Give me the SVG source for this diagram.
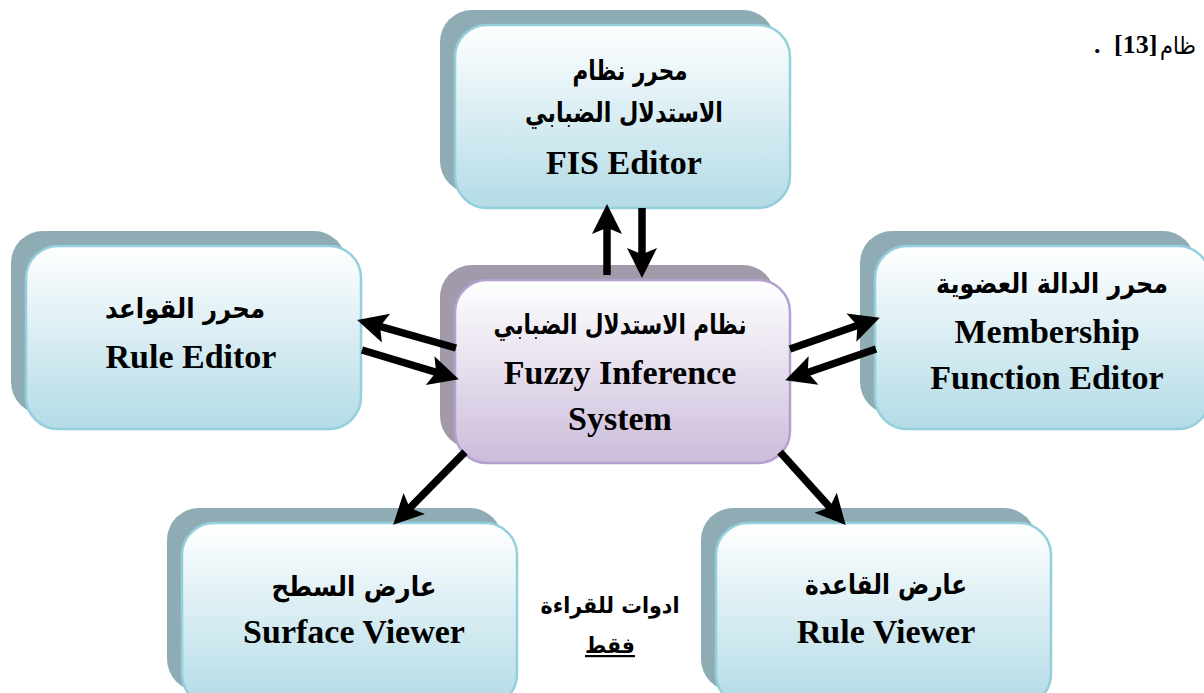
<svg xmlns="http://www.w3.org/2000/svg" width="1204" height="693" viewBox="0 0 1204 693">
<defs>
<linearGradient id="gBlue" x1="0" y1="0" x2="0" y2="1">
<stop offset="0" stop-color="#ffffff"/>
<stop offset="1" stop-color="#b3dbe6"/>
</linearGradient>
<linearGradient id="gPurple" x1="0" y1="0" x2="0" y2="1">
<stop offset="0" stop-color="#ffffff"/>
<stop offset="1" stop-color="#cbbcda"/>
</linearGradient>
<marker id="ah" markerUnits="userSpaceOnUse" orient="auto" markerWidth="50" markerHeight="50" refX="0" refY="0" viewBox="-20 -20 40 40" overflow="visible">
<path d="M16,0 L-8,-12 L-3,0 L-8,12 Z" fill="#000"/>
</marker>
</defs>
<style>
.sh{fill:#8fabb3}
.shp{fill:#a29aaa}
.fb{fill:url(#gBlue);stroke:#93cfdd;stroke-width:2.5}
.fp{fill:url(#gPurple);stroke:#b3a0cf;stroke-width:2.5}
.en{font-family:"Liberation Serif","Times New Roman",serif;font-weight:bold;font-size:34px;fill:#000;text-anchor:middle}
.ar{font-family:"DejaVu Sans",sans-serif;font-weight:bold;font-size:27px;fill:#000;text-anchor:middle}
.arm{font-family:"DejaVu Sans",sans-serif;font-weight:bold;font-size:22px;fill:#000;text-anchor:middle}
.cn{fill:none;stroke:#000;stroke-width:7.5;marker-end:url(#ah)}
</style>

<g id="topnote">
<text x="1160" y="54" textLength="36" lengthAdjust="spacingAndGlyphs" style="font-family:'DejaVu Sans',sans-serif;font-size:24px;fill:#000">ظام</text>
<text x="1114" y="53" style="font-family:'Liberation Serif',serif;font-weight:bold;font-size:26px;fill:#000">[13]</text>
<text x="1094" y="53" style="font-family:'Liberation Serif',serif;font-weight:bold;font-size:26px;fill:#000">.</text>
</g>

<g id="fis-editor">
<rect class="sh" x="440" y="10" width="335" height="183" rx="32"/>
<rect class="fb" x="455" y="25" width="335" height="183" rx="32"/>
<text class="ar" x="630" y="80" direction="rtl" textLength="115" lengthAdjust="spacingAndGlyphs">محرر نظام</text>
<text class="ar" x="624" y="122" direction="rtl" textLength="198" lengthAdjust="spacingAndGlyphs">الاستدلال الضبابي</text>
<text class="en" x="624" y="174">FIS Editor</text>
</g>

<g id="fis">
<rect class="shp" x="440" y="265" width="335" height="183" rx="32"/>
<rect class="fp" x="455" y="280" width="335" height="183" rx="32"/>
<text class="ar" x="620" y="334" direction="rtl" textLength="253" lengthAdjust="spacingAndGlyphs">نظام الاستدلال الضبابي</text>
<text class="en" x="620" y="384">Fuzzy Inference</text>
<text class="en" x="620" y="430">System</text>
</g>

<g id="rule-editor">
<rect class="sh" x="11" y="231" width="335" height="183" rx="32"/>
<rect class="fb" x="26" y="246" width="335" height="183" rx="32"/>
<text class="ar" x="185" y="318" direction="rtl" textLength="160" lengthAdjust="spacingAndGlyphs">محرر القواعد</text>
<text class="en" x="191" y="368">Rule Editor</text>
</g>

<g id="mf-editor">
<rect class="sh" x="860" y="231" width="335" height="183" rx="32"/>
<rect class="fb" x="875" y="246" width="335" height="183" rx="32"/>
<text class="ar" x="1052" y="293" direction="rtl" textLength="232" lengthAdjust="spacingAndGlyphs">محرر الدالة العضوية</text>
<text class="en" x="1047" y="343">Membership</text>
<text class="en" x="1047" y="389">Function Editor</text>
</g>

<g id="surface-viewer">
<rect class="sh" x="167" y="508" width="335" height="183" rx="32"/>
<rect class="fb" x="182" y="523" width="335" height="183" rx="32"/>
<text class="ar" x="354" y="596" direction="rtl" textLength="165" lengthAdjust="spacingAndGlyphs">عارض السطح</text>
<text class="en" x="354" y="643">Surface Viewer</text>
</g>

<g id="rule-viewer">
<rect class="sh" x="701" y="508" width="335" height="183" rx="32"/>
<rect class="fb" x="716" y="523" width="335" height="183" rx="32"/>
<text class="ar" x="886" y="594" direction="rtl" textLength="162" lengthAdjust="spacingAndGlyphs">عارض القاعدة</text>
<text class="en" x="886" y="643">Rule Viewer</text>
</g>

<g id="readonly-note">
<text class="arm" x="610" y="613" direction="rtl" textLength="139" lengthAdjust="spacingAndGlyphs">ادوات للقراءة</text>
<text class="arm" x="610" y="653" direction="rtl" text-decoration="underline" textLength="50" lengthAdjust="spacingAndGlyphs">فقط</text>
</g>

<g id="connectors">
<path class="cn" d="M607,275 L607,224"/>
<path class="cn" d="M642,208 L642,258"/>
<path class="cn" d="M456,348 L376.4,325.4"/>
<path class="cn" d="M362,350 L439.7,373.4"/>
<path class="cn" d="M790,349 L860.9,324.3"/>
<path class="cn" d="M876,349 L804.1,373.8"/>
<path class="cn" d="M465,452 L407.2,510.6"/>
<path class="cn" d="M780,452 L832.3,510.1"/>
</g>
</svg>
